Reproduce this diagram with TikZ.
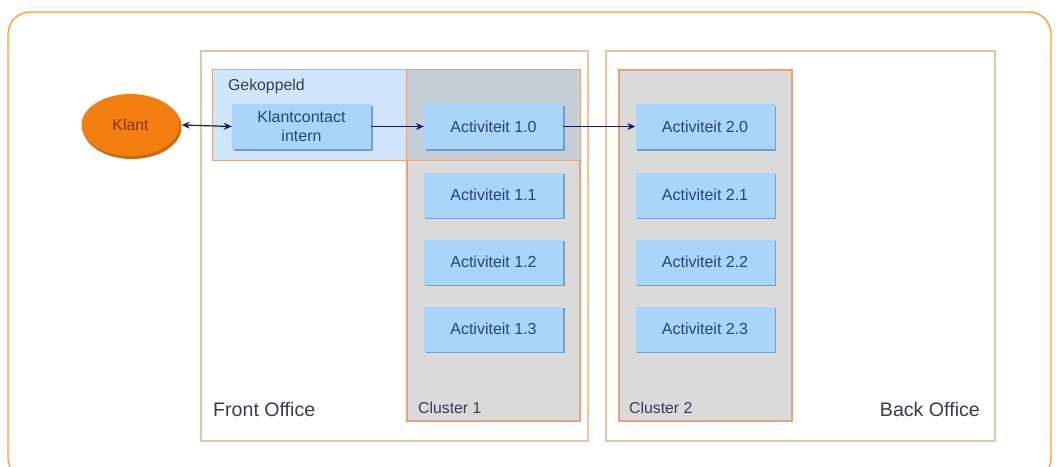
\documentclass[tikz,border=0pt]{standalone}
\usepackage{fontspec}
\setmainfont{Liberation Sans}
\usetikzlibrary{arrows.meta,shapes.geometric}

\definecolor{frameorange}{HTML}{FF9A2E}
\definecolor{officeline}{HTML}{E8C4A0}
\definecolor{clusterline}{HTML}{E8A278}
\definecolor{coupledline}{HTML}{DDAA84}
\definecolor{clusterfill}{HTML}{DADADA}
\definecolor{coupledfill}{HTML}{CFE6FD}
\definecolor{overlapfill}{HTML}{C5CDD7}
\definecolor{boxfill}{HTML}{A9D5FB}
\definecolor{boxshade}{HTML}{7A9CBE}
\definecolor{boxtext}{HTML}{27437C}
\definecolor{labeltext}{HTML}{3A3A55}
\definecolor{clientfill}{HTML}{F57F0E}
\definecolor{clientshade}{HTML}{C96A10}
\definecolor{clienttext}{HTML}{8A2E0C}
\definecolor{arrowblue}{HTML}{141B6B}

\tikzset{
  office/.style={draw=officeline, line width=1.2pt, fill=white, inner sep=0pt},
  cluster/.style={draw=clusterline, line width=1.2pt, fill=clusterfill, inner sep=0pt},
  activity/.style={fill=boxfill, inner sep=0pt, minimum width=139pt, minimum height=45pt,
    text=boxtext, font=\fontsize{16}{19.5}\selectfont, align=center},
  shade/.style={fill=boxshade, inner sep=0pt, minimum width=139pt, minimum height=45pt},
  areatext/.style={text=labeltext, inner sep=0pt, font=\fontsize{15.8}{18}\selectfont},
  officetext/.style={text=labeltext, inner sep=0pt, font=\fontsize{19.6}{22}\selectfont},
  flow/.style={draw=arrowblue, line width=1.2pt, -{Stealth[length=8pt,width=7pt]}},
  biflow/.style={draw=arrowblue, line width=1.2pt, {Stealth[length=8pt,width=7pt]}-{Stealth[length=8pt,width=7pt]}}
}

\begin{document}
\begin{tikzpicture}[x=1pt, y=-1pt]
\useasboundingbox (0,0) rectangle (1056,466);
\clip (0,0) rectangle (1056,466);

% outer rounded frame
\draw[frameorange, line width=1.3pt, rounded corners=22pt] (8,12) rectangle (1051,480);

% office areas
\node[office, minimum width=387pt, minimum height=390pt] (fo) at (394.5,246) {};
\node[office, minimum width=389pt, minimum height=390pt] (bo) at (800.5,246) {};

% coupled area and clusters
\node[fill=coupledfill, inner sep=0pt, minimum width=367pt, minimum height=90pt] (gk) at (396.5,115) {};
\node[cluster, minimum width=173pt, minimum height=351pt] (c1) at (493.5,245.5) {};
\node[cluster, minimum width=173pt, minimum height=351pt] (c2) at (705.5,245.5) {};
\fill[overlapfill] (c1.north west) rectangle (gk.south east);
\draw[coupledline, line width=1.2pt] (gk.north west) rectangle (gk.south east);
\draw[clusterline, line width=1.2pt] (c1.north west) rectangle (c1.south east);

% area labels
\node[areatext, anchor=west] (gklabel) at (228,86) {Gekoppeld};
\node[officetext, anchor=west] (folabel) at (213,409) {Front Office};
\node[officetext, anchor=east] (bolabel) at (980,409) {Back Office};
\node[areatext, anchor=west] (c1label) at (418,408) {Cluster 1};
\node[areatext, anchor=west] (c2label) at (629,408) {Cluster 2};

% client
\node[ellipse, fill=clientshade, minimum width=99pt, minimum height=64pt, inner sep=0pt] (klantshade) at (132,127) {};
\node[ellipse, fill=clientfill, minimum width=98pt, minimum height=62pt, inner sep=0pt,
  text=clienttext, font=\fontsize{15.8}{18}\selectfont] (klant) at (130.5,125) {Klant};

% activity boxes with their shading
\foreach \n/\x/\y in {kc/301.5/126.5, a10/493.5/126.5, a11/493.5/195, a12/493.5/262, a13/493.5/329,
                      a20/705/126.5, a21/705/195, a22/705/262, a23/705/329}
  \node[shade] (\n shade) at (\x+1.5,\y+1.8) {};

\node[activity] (kc)  at (301.5,126.5) {Klantcontact\\intern};
\node[activity] (a10) at (493.5,126.5) {Activiteit 1.0};
\node[activity] (a11) at (493.5,195) {Activiteit 1.1};
\node[activity] (a12) at (493.5,262) {Activiteit 1.2};
\node[activity] (a13) at (493.5,329) {Activiteit 1.3};
\node[activity] (a20) at (705,126.5) {Activiteit 2.0};
\node[activity] (a21) at (705,195) {Activiteit 2.1};
\node[activity] (a22) at (705,262) {Activiteit 2.2};
\node[activity] (a23) at (705,329) {Activiteit 2.3};

% connectors
\draw[biflow] (klant.east) ++(2pt,0) coordinate (klantport) (klantport) -- (kc.west);
\draw[flow] (kc.east) -- (a10.west);
\draw[flow] (a10.east) -- (a20.west);
\end{tikzpicture}
\end{document}
